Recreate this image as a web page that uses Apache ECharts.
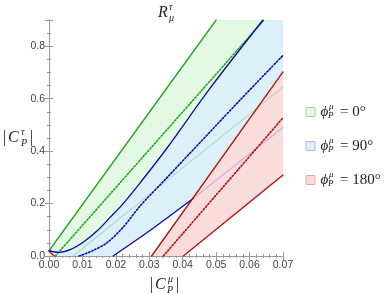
<!DOCTYPE html>
<html><head><meta charset="utf-8">
<script src="https://cdn.jsdelivr.net/npm/echarts@6/dist/echarts.min.js"></script>
<style>html,body{margin:0;padding:0;background:#fff}#c{width:388px;height:294px}</style>
</head><body><div id="c"></div>
<script>
// x = |C_P^mu|, y = |C_P^tau|
const greenUpper   = [[0,0.02],[0.0500,0.9]];
const greenCentral = [[0.0019,0],[0.0643,0.9]];
const greenLower   = [[0.0072,0],[0.07,0.644]];
const blueUpper    = [[0,0.02],[0.003,0.014],[0.0065,0.025],[0.0105,0.055],[0.0145,0.097],[0.0185,0.15],[0.0222,0.2],[0.0272,0.278],[0.0352,0.41],[0.0482,0.64],[0.064,0.9]];
const blueCentral  = [[0.0090,0],[0.0130,0.02],[0.0173,0.05],[0.0222,0.11],[0.0272,0.19],[0.035,0.295],[0.0571,0.594],[0.07,0.765]];
const blueLowerSolid  = [[0.0192,0],[0.030,0.095],[0.0432,0.22]];
const blueLowerHidden = [[0.0432,0.22],[0.07,0.49]];
const redUpper     = [[0.0307,0],[0.07,0.702]];
const redCentral   = [[0.0342,0],[0.07,0.527]];
const redLower     = [[0.0402,0],[0.07,0.309]];
const redOrigin    = [[0,0.018],[0.0016,0]];
const xRange = [0, 0.07];
const yRange = [0, 0.9];
const legendLabels = ['0°','90°','180°'];

const C = {
  gLine:'#1fa51f', gFill:'#e4f9e4', gFaint:'rgba(120,200,140,0.45)',
  bLine:'#0a0aa8', bFill:'#dcf0fa', bFaint:'rgba(170,150,220,0.6)',
  rLine:'#b30d0d', rFill:'#fadcdc'
};
const [x0,x1] = xRange, [y0,y1] = yRange;
const greenPoly = greenUpper.concat([[x1,y1]], greenLower.slice().reverse(), [[x0,y0]]);
const bluePoly  = blueUpper.concat([[x1,y1]], blueLowerHidden.slice().reverse(), blueLowerSolid.slice(0,-1).reverse(), [[x0,y0]]);
const redPoly   = redUpper.concat(redLower.slice().reverse());
const redOriginPoly = [[x0,y0]].concat(redOrigin);

function poly(pts, color, z){
  return {type:'custom', coordinateSystem:'cartesian2d', silent:true, z:z, clip:true,
    data: pts, encode:{x:0,y:1},
    renderItem:(params, api)=> params.dataIndex===0 ? ({type:'polygon', shape:{points: pts.map(p=>api.coord(p))}, style:{fill:color}}) : null};
}
function line(pts, color, w, type, z, smooth){
  return {type:'line', data:pts, showSymbol:false, silent:true, z:z, smooth:smooth||false,
    lineStyle:{color:color, width:w, type:type||'solid', cap:'round'}};
}
const dot = [1.4,2.0];
const axisCommon = {
  type:'value', min:x0, max:x1, interval:0.01,
  axisLine:{show:true, lineStyle:{color:'#9a9a9a', width:1}},
  axisTick:{show:true, inside:true, length:4, lineStyle:{color:'#9a9a9a'}},
  minorTick:{show:true, splitNumber:5, length:2, lineStyle:{color:'#9a9a9a'}},
  splitLine:{show:false}
};
const labelFont = {color:'#444', fontSize:10.5, fontFamily:'Liberation Sans'};
const option = {
  animation:false,
  grid:{left:49, right:105, top:20, bottom:38, containLabel:false},
  xAxis:[
    Object.assign({}, axisCommon, {position:'bottom', axisLabel:Object.assign({margin:4, formatter:v=>v.toFixed(2)}, labelFont)}),
    Object.assign({}, axisCommon, {position:'top', axisLabel:{show:false}})
  ],
  yAxis:[
    Object.assign({}, axisCommon, {min:y0, max:y1, interval:0.2, minorTick:{show:true, splitNumber:4, length:2, lineStyle:{color:'#9a9a9a'}}, position:'left',
      axisLabel:Object.assign({margin:4, showMaxLabel:false, formatter:v=>v.toFixed(1)}, labelFont)}),
    Object.assign({}, axisCommon, {min:y0, max:y1, interval:0.2, minorTick:{show:true, splitNumber:4, length:2, lineStyle:{color:'#9a9a9a'}}, position:'right', axisLabel:{show:false}})
  ],
  series:[
    poly(greenPoly, C.gFill, 1),
    poly(bluePoly, C.bFill, 2),
    poly(redPoly, C.rFill, 3),
    poly(redOriginPoly, C.rFill, 3),
    line(greenLower, C.gFaint, 1.2, 'solid', 4),
    line(blueLowerHidden, C.bFaint, 1.2, 'solid', 4),
    line(greenUpper, C.gLine, 1.3, 'solid', 5),
    line(greenCentral, C.gLine, 1.6, dot, 5),
    line(blueUpper, C.bLine, 1.3, 'solid', 5, 0.3),
    line(blueCentral, C.bLine, 1.6, dot, 5, 0.3),
    line(blueLowerSolid, C.bLine, 1.3, 'solid', 5, 0.3),
    line(redUpper, C.rLine, 1.3, 'solid', 5),
    line(redCentral, C.rLine, 1.6, dot, 5),
    line(redLower, C.rLine, 1.3, 'solid', 5),
    line(redOrigin, C.rLine, 1.3, 'solid', 5)
  ],
  graphic:[]
};
const serif = 'Liberation Serif';
function t(x,y,text,size,italic,extra){
  return Object.assign({type:'text', x:x, y:y, silent:true, style:{text:text, fill:'#222', font:(italic?'italic ':'')+size+'px "'+serif+'"', textAlign:'left', textVerticalAlign:'middle'}}, extra||{});
}
const g = option.graphic;
// title R_mu^tau
g.push(t(158,13,'R',16,true), t(169,7,'τ',10,true), t(169,18,'μ',10,true));
// y label |C_P^tau|
g.push(t(3,138,'|',16,false), t(8,138,'C',16,true), t(21,132,'τ',10,true), t(21,143,'P',10,true), t(30,138,'|',16,false));
// x label |C_P^mu|
g.push(t(150,285,'|',16,false), t(155,285,'C',16,true), t(168,279,'μ',10,true), t(167,290,'P',10,true), t(176,285,'|',16,false));
// legend
const legCol = [[C.gFill,'#9ed99e'],[C.bFill,'#a9b6ea'],[C.rFill,'#eca7a7']];
const legY = [112,146,180];
legY.forEach((yy,i)=>{
  g.push({type:'rect', shape:{x:306, y:yy-4.5, width:9, height:9}, style:{fill:legCol[i][0], stroke:legCol[i][1], lineWidth:1}});
  g.push(t(320.5,yy,'ϕ',15,true), t(329,yy-5,'μ',9,true), t(328,yy+4,'P',9,true), t(340,yy,'= '+legendLabels[i],15,false));
});
const chart = echarts.init(document.getElementById('c'), null, {renderer:'canvas'});
chart.setOption(option);
</script></body></html>
